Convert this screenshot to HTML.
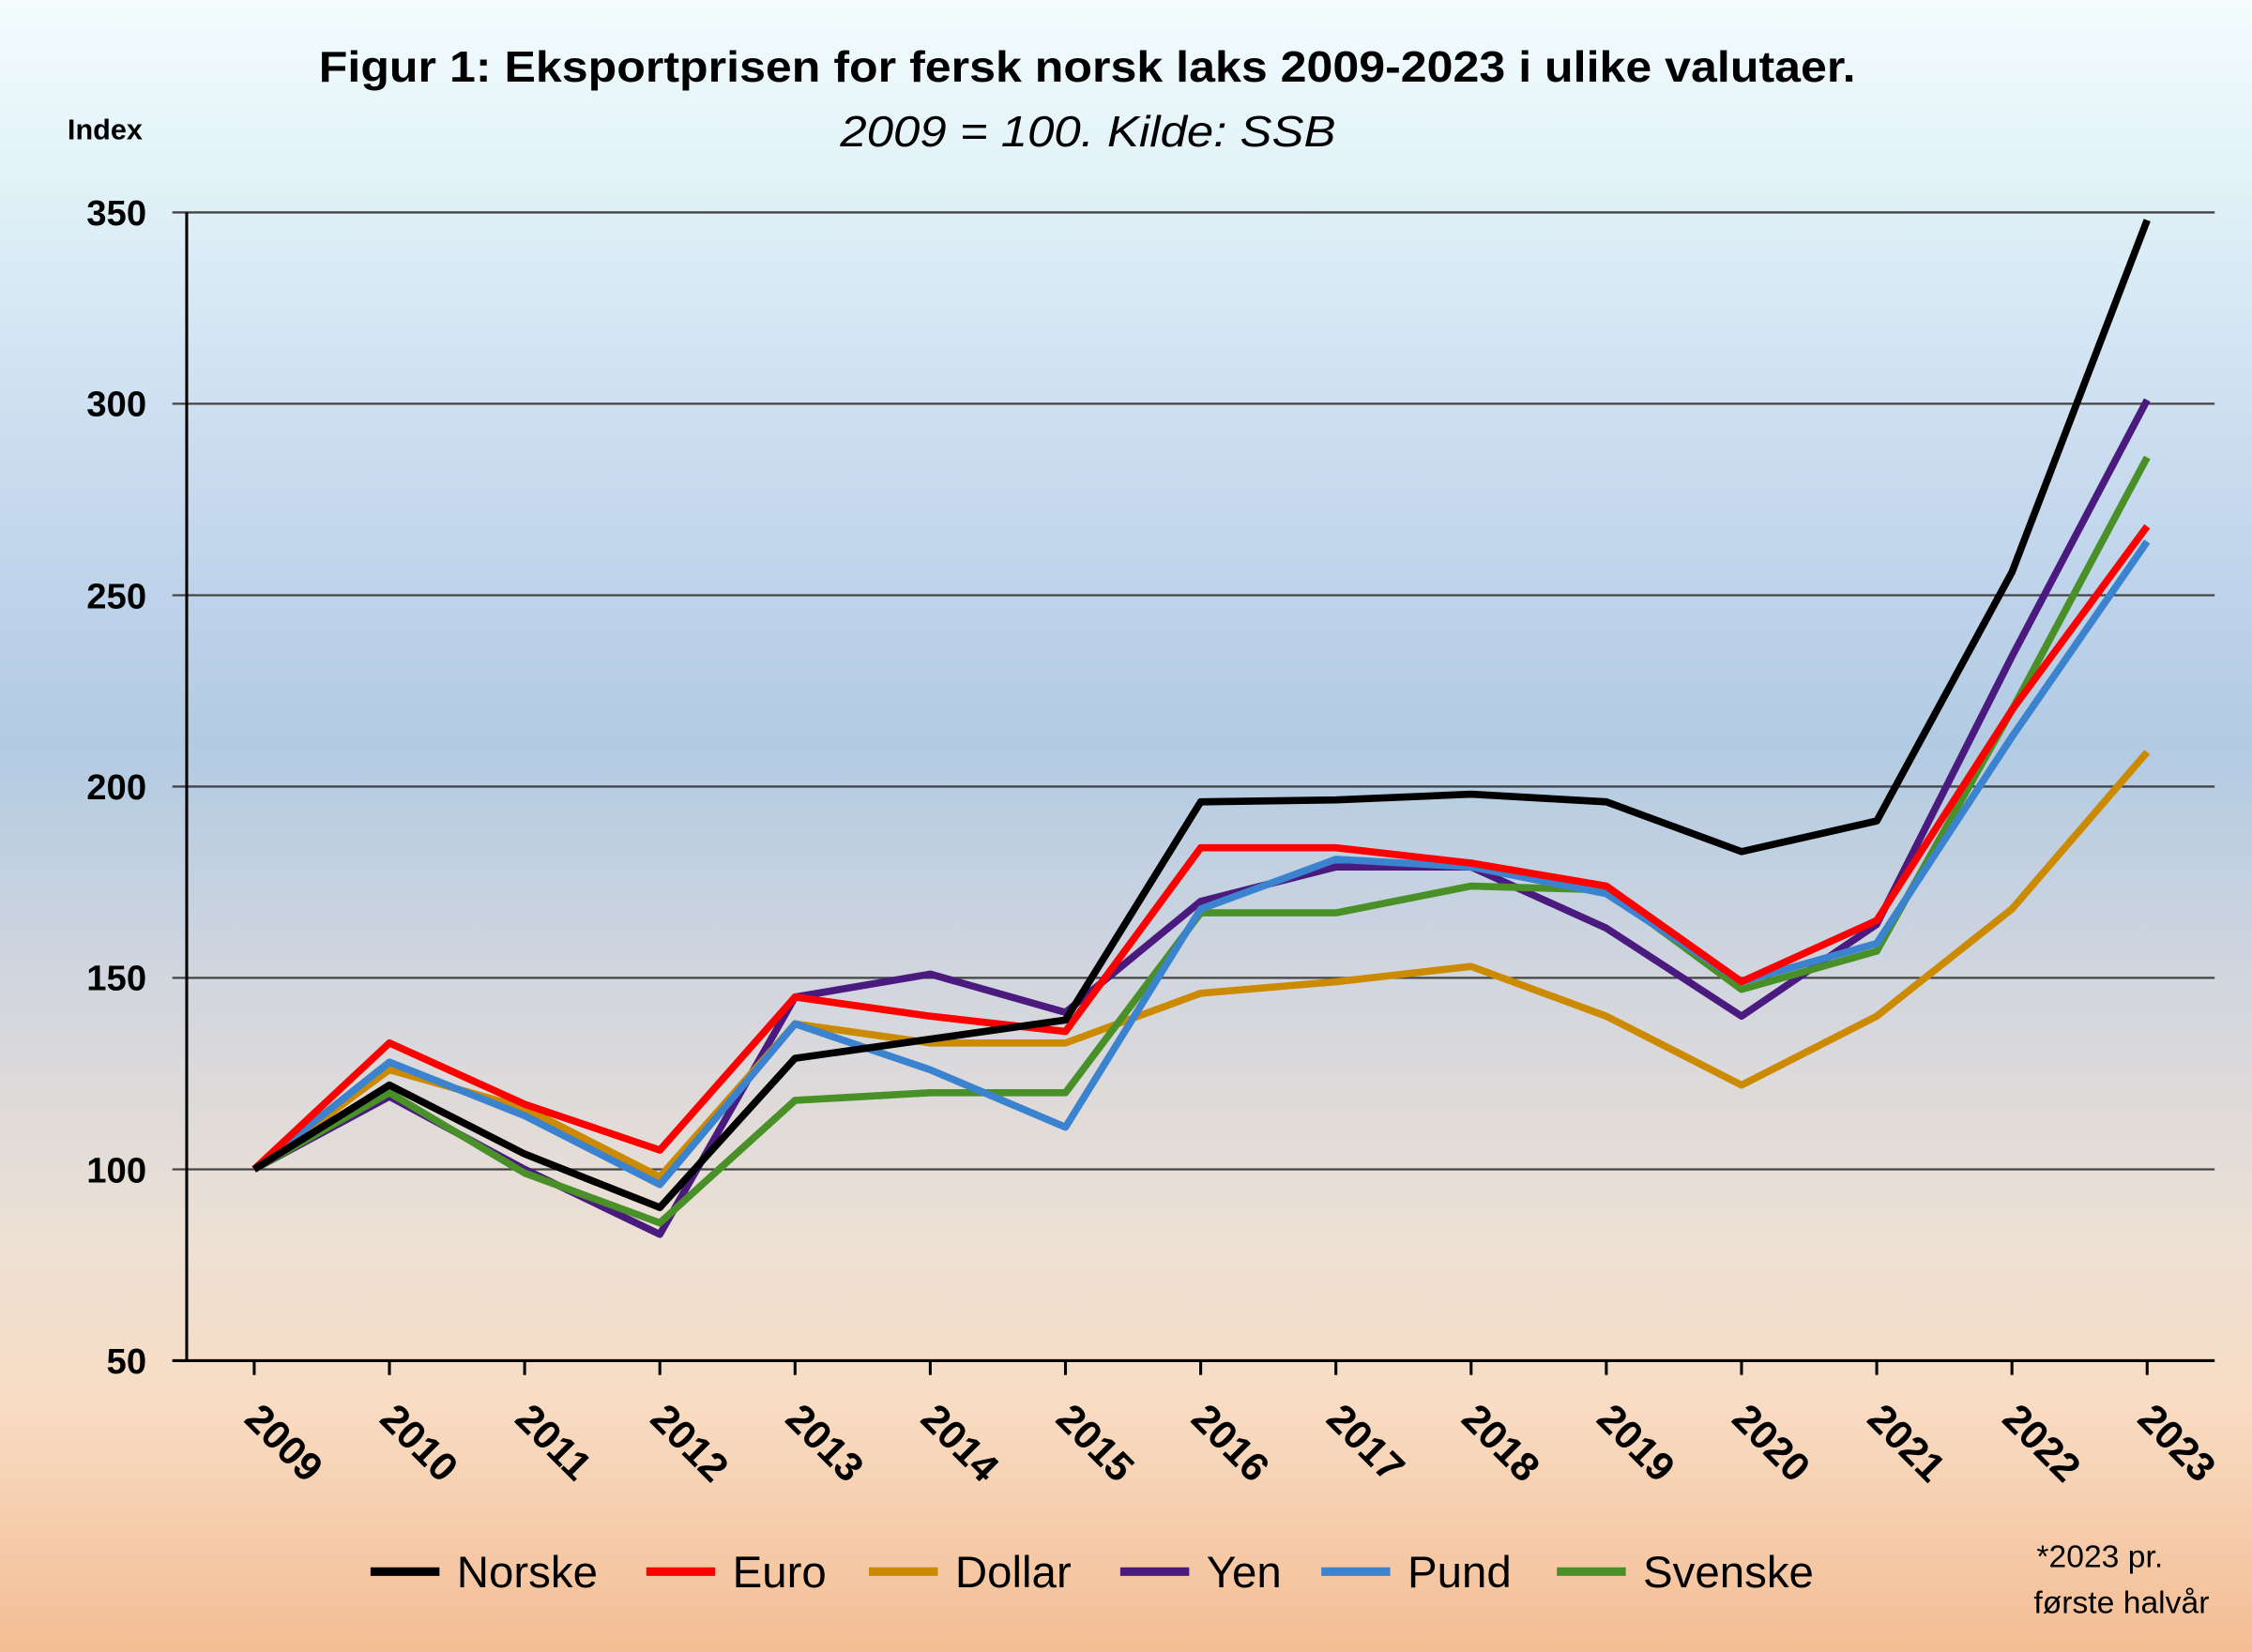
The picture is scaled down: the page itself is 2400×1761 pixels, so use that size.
<!DOCTYPE html>
<html><head><meta charset="utf-8"><style>
html,body{margin:0;padding:0;}
body{width:2400px;height:1761px;overflow:hidden;}
svg{display:block;}
text{font-family:"Liberation Sans",sans-serif;}
</style></head><body>
<svg id="s" width="2400" height="1761" viewBox="0 0 1568 1151" preserveAspectRatio="none" xmlns="http://www.w3.org/2000/svg">
<defs><linearGradient id="bg" x1="0" y1="0" x2="0" y2="1">
<stop offset="0" stop-color="#f4fcfd"/>
<stop offset="0.1" stop-color="#e2f3f8"/>
<stop offset="0.3" stop-color="#c6d9ee"/>
<stop offset="0.45" stop-color="#b2cbe3"/>
<stop offset="0.6" stop-color="#d3d6de"/>
<stop offset="0.75" stop-color="#ede0d4"/>
<stop offset="0.85" stop-color="#f8dcc3"/>
<stop offset="1" stop-color="#f4bd94"/>
</linearGradient></defs>
<rect width="1568" height="1151" fill="url(#bg)"/>
<g stroke="#444" stroke-width="1.5">
<line x1="120" y1="148" x2="1542" y2="148"/>
<line x1="120" y1="281.3" x2="1542" y2="281.3"/>
<line x1="120" y1="414.7" x2="1542" y2="414.7"/>
<line x1="120" y1="548" x2="1542" y2="548"/>
<line x1="120" y1="681.3" x2="1542" y2="681.3"/>
<line x1="120" y1="814.7" x2="1542" y2="814.7"/>
</g>
<line x1="120" y1="948" x2="1542" y2="948" stroke="#000" stroke-width="2"/>
<line x1="130" y1="148" x2="130" y2="948" stroke="#000" stroke-width="2"/>
<g id="ticks" stroke="#000" stroke-width="2"></g>
<g font-weight="bold" font-size="25" text-anchor="end" fill="#000">
<text x="102" y="157">350</text><text x="102" y="290">300</text><text x="102" y="424">250</text>
<text x="102" y="557">200</text><text x="102" y="690">150</text><text x="102" y="824">100</text><text x="102" y="957">50</text>
</g>
<g id="yrs" font-weight="bold" font-size="28" fill="#000"></g>
<text x="222" y="57" font-weight="bold" font-size="30" textLength="1070" lengthAdjust="spacingAndGlyphs">Figur 1: Eksportprisen for fersk norsk laks 2009-2023 i ulike valutaer.</text>
<text x="585" y="102" font-style="italic" font-size="30" textLength="345" lengthAdjust="spacingAndGlyphs">2009 = 100.  Kilde: SSB</text>
<text x="47" y="97" font-weight="bold" font-size="20">Index</text>
<g id="lines" fill="none" stroke-width="5" stroke-linejoin="round"></g>
<g font-size="31" fill="#000">
<line x1="258" y1="1095" x2="306" y2="1095" stroke="#000" stroke-width="6"/><text x="318" y="1106">Norske</text>
<line x1="450" y1="1095" x2="498" y2="1095" stroke="#ff0000" stroke-width="6"/><text x="510" y="1106">Euro</text>
<line x1="605" y1="1095" x2="653" y2="1095" stroke="#cc8a00" stroke-width="6"/><text x="665" y="1106">Dollar</text>
<line x1="780" y1="1095" x2="828" y2="1095" stroke="#4b1a7e" stroke-width="6"/><text x="840" y="1106">Yen</text>
<line x1="920" y1="1095" x2="968" y2="1095" stroke="#3b82cf" stroke-width="6"/><text x="980" y="1106">Pund</text>
<line x1="1084" y1="1095" x2="1132" y2="1095" stroke="#4a9029" stroke-width="6"/><text x="1144" y="1106">Svenske</text>
</g>
<text x="1418" y="1092" font-size="22">*2023 pr.</text>
<text x="1416" y="1124" font-size="22">første halvår</text>
</svg>
<script>
var NS="http://www.w3.org/2000/svg";
function X(i){return 177+i*94.143;}
function Y(v){return 148+(350-v)*2.6667;}
var t=document.getElementById('ticks'),yr=document.getElementById('yrs');
for(var i=0;i<15;i++){
 var l=document.createElementNS(NS,'line');l.setAttribute('x1',X(i));l.setAttribute('x2',X(i));l.setAttribute('y1',948);l.setAttribute('y2',958);t.appendChild(l);
 var tx=document.createElementNS(NS,'text');tx.setAttribute('transform','translate('+(X(i)-8)+',990) rotate(45)');tx.textContent=2009+i;yr.appendChild(tx);
}
var data=[
['#4b1a7e',[100,119,100,83,145,151,141,170,179,179,163,140,164,234,301]],
['#cc8a00',[100,126,116,98,138,133,133,146,149,153,140,122,140,168,209]],
['#4a9029',[100,120,99,86,118,120,120,167,167,174,173,147,157,220,286]],
['#3b82cf',[100,128,114,96,138,126,111,168,181,179,172,149,159,213,264]],
['#ff0000',[100,133,117,105,145,140,136,184,184,180,174,149,165,220,268]],
['#000000',[100,122,104,90,129,134,139,196,196.5,198,196,183,191,256,348]]
];
var g=document.getElementById('lines');
data.forEach(function(d){var p=document.createElementNS(NS,'polyline');
p.setAttribute('points',d[1].map(function(v,i){return X(i)+','+Y(v)}).join(' '));
p.setAttribute('stroke',d[0]);g.appendChild(p);});
</script>
</body></html>
